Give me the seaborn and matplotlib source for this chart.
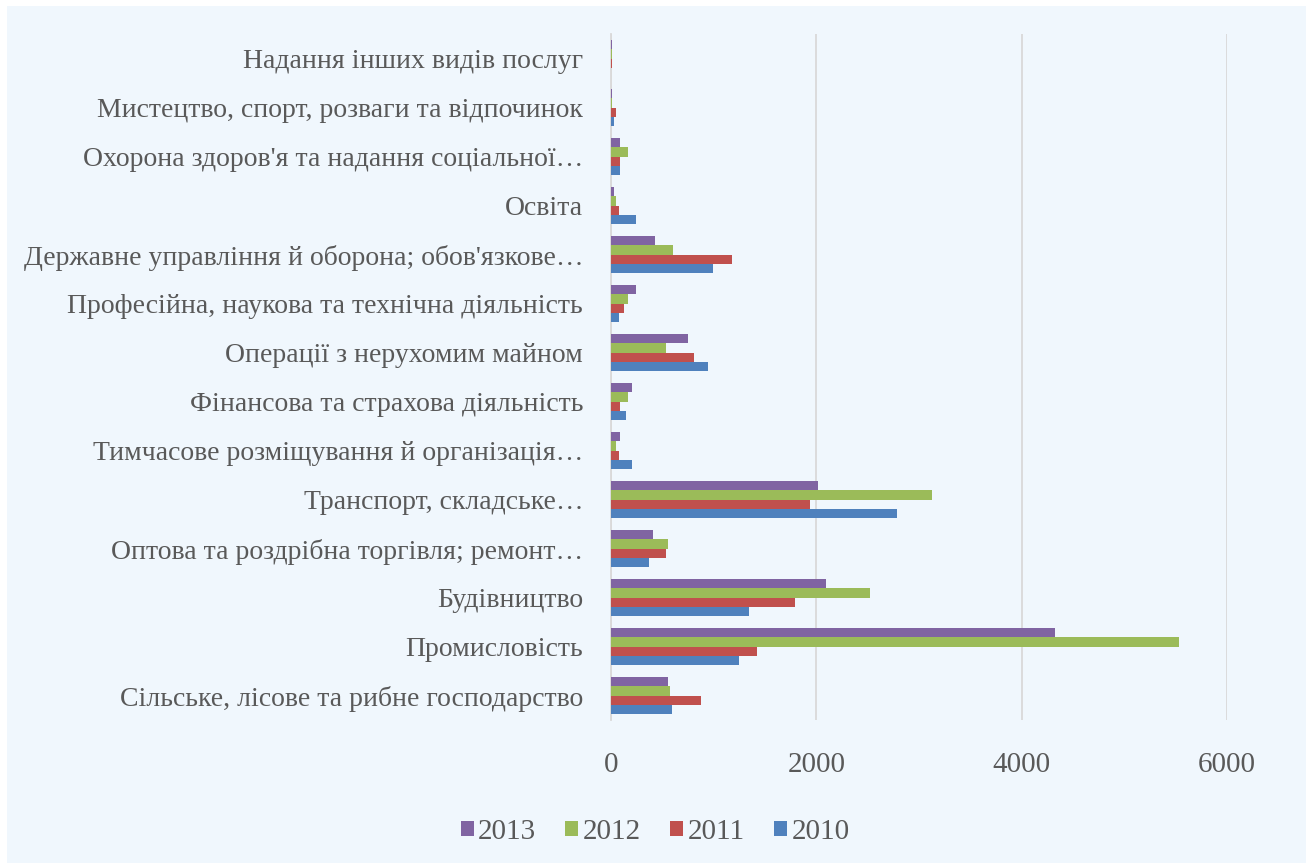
import numpy as np
import pandas as pd
import matplotlib
matplotlib.use('Agg')
import matplotlib.pyplot as plt
from matplotlib.patches import Rectangle
import seaborn as sns

# галузі, зверху вниз як на діаграмі
categories = [
    "Надання інших видів послуг",
    "Мистецтво, спорт, розваги та відпочинок",
    "Охорона здоров'я та надання соціальної…",
    "Освіта",
    "Державне управління й оборона; обов'язкове…",
    "Професійна, наукова та технічна діяльність",
    "Операції з нерухомим майном",
    "Фінансова та страхова діяльність",
    "Тимчасове розміщування й організація…",
    "Транспорт, складське…",
    "Оптова та роздрібна торгівля; ремонт…",
    "Будівництво",
    "Промисловість",
    "Сільське, лісове та рибне господарство",
]

years = ["2013", "2012", "2011", "2010"]

v2013 = [10, 6, 91, 32, 432, 240, 750, 205, 91, 2012, 410, 2093, 4322, 560]
v2012 = [6, 8, 166, 52, 600, 166, 539, 166, 52, 3123, 560, 2523, 5533, 575]
v2011 = [6, 50, 91, 75, 1182, 130, 805, 91, 75, 1940, 540, 1791, 1420, 877]
v2010 = [4, 30, 91, 240, 994, 75, 942, 146, 205, 2785, 374, 1340, 1247, 596]

colors = ["#8064A2", "#9BBB59", "#C0504D", "#4F81BD"]
bg = "#F0F7FD"
txt = "#595959"

rows = []
for y, vals in zip(years, [v2013, v2012, v2011, v2010]):
    for c, v in zip(categories, vals):
        rows.append({"cat": c, "year": y, "value": v})
df = pd.DataFrame(rows)

sns.set_style("white")
plt.rcParams['font.family'] = ['Liberation Serif', 'DejaVu Serif']

fig = plt.figure(figsize=(13.06, 8.63), dpi=100)
fig.patch.set_facecolor("white")
fig.patches.append(Rectangle((7 / 1306, 0), 1, 1 - 6 / 863, transform=fig.transFigure,
                             facecolor=bg, edgecolor="none", zorder=-10))

ax = fig.add_axes([611 / 1306, 1 - 720 / 863, (1227 - 611) / 1306, (720 - 34) / 863])
ax.set_facecolor(bg)

sns.barplot(data=df, x="value", y="cat", hue="year", hue_order=years, order=categories,
            palette=colors, orient="h", width=0.75, saturation=1, linewidth=0,
            ax=ax, zorder=3)

ax.set_xlim(0, 6000)
ax.set_xticks([0, 2000, 4000, 6000])
ax.grid(axis="x", color="#D9D9D9", linewidth=1.3, zorder=0)
ax.set_axisbelow(True)
for s in ["top", "right", "bottom"]:
    ax.spines[s].set_visible(False)
ax.spines["left"].set_color("#D9D9D9")
ax.spines["left"].set_linewidth(1.3)
ax.set_xlabel("")
ax.set_ylabel("")
ax.tick_params(axis="y", length=0, pad=20, labelsize=20, labelcolor=txt)
ax.tick_params(axis="x", length=0, pad=23, labelsize=21, labelcolor=txt)

sns.move_legend(ax, "center", bbox_to_anchor=(655 / 1306, 1 - 832 / 863),
                bbox_transform=fig.transFigure, ncol=4, frameon=False, title=None,
                fontsize=21, handlelength=0.45, handleheight=0.45, handletextpad=0.15,
                columnspacing=1.0, labelcolor=txt)

fig.savefig("out.png", dpi=100, facecolor=fig.get_facecolor())
